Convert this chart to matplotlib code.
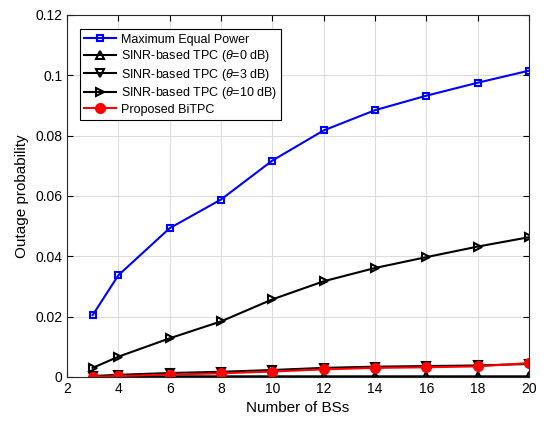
import matplotlib
matplotlib.use("Agg")
import matplotlib.pyplot as plt

plt.rcParams['font.family'] = ['Liberation Sans', 'DejaVu Sans']
plt.rcParams['mathtext.fontset'] = 'custom'
plt.rcParams['mathtext.it'] = 'Liberation Sans:italic'

bss = [3, 4, 6, 8, 10, 12, 14, 16, 18, 20]
max_equal = [0.0205, 0.0337, 0.0493, 0.0588, 0.0717, 0.0817, 0.0884, 0.0932, 0.0975, 0.1015]
sinr_0db = [0.0001, 0.0001, 0.0002, 0.0002, 0.0002, 0.0002, 0.0002, 0.0002, 0.0002, 0.0002]
sinr_3db = [0.0003, 0.0007, 0.0013, 0.0017, 0.0023, 0.0030, 0.0034, 0.0036, 0.0038, 0.0043]
sinr_10db = [0.0030, 0.0067, 0.0128, 0.0184, 0.0257, 0.0317, 0.0361, 0.0397, 0.0432, 0.0463]
bitpc = [0.0000, 0.0003, 0.0008, 0.0012, 0.0018, 0.0025, 0.0030, 0.0032, 0.0035, 0.0046]

fig = plt.figure(figsize=(5.47, 4.24), dpi=100)
ax = fig.add_axes([0.1225, 0.111, 0.8446, 0.854])

ax.plot(bss, max_equal, "-s", color="blue", lw=1.5, ms=5, mfc="none", mew=1.5, label="Maximum Equal Power")
ax.plot(bss, sinr_0db, "-^", color="black", lw=1.5, ms=6, mfc="none", mew=1.5, label=r"SINR-based TPC ($\theta$=0 dB)")
ax.plot(bss, sinr_3db, "-v", color="black", lw=1.5, ms=6, mfc="none", mew=1.5, label=r"SINR-based TPC ($\theta$=3 dB)")
ax.plot(bss, sinr_10db, "->", color="black", lw=1.5, ms=6, mfc="none", mew=1.5, label=r"SINR-based TPC ($\theta$=10 dB)")
ax.plot(bss, bitpc, "-o", color="red", lw=1.5, ms=7, label="Proposed BiTPC")

ax.set_xlim(2, 20)
ax.set_ylim(0, 0.12)
ax.set_xticks([2, 4, 6, 8, 10, 12, 14, 16, 18, 20])
ax.set_yticks([0, 0.02, 0.04, 0.06, 0.08, 0.1, 0.12])
ax.set_yticklabels(["0", "0.02", "0.04", "0.06", "0.08", "0.1", "0.12"])
ax.tick_params(labelsize=10, direction="in", length=4, top=True, right=True)
ax.grid(True, color="#dcdcdc", lw=0.8)
for s in ax.spines.values():
    s.set_color("#262626")
ax.set_xlabel("Number of BSs", fontsize=11)
ax.set_ylabel("Outage probability", fontsize=11)

leg = ax.legend(loc="upper left", fontsize=9, fancybox=False, edgecolor="black",
                framealpha=1, handlelength=2.5, handletextpad=0.4, borderpad=0.35,
                labelspacing=0.2, borderaxespad=0, bbox_to_anchor=(0.028, 0.96))
leg.get_frame().set_linewidth(0.8)

fig.savefig("out.png", dpi=100)
